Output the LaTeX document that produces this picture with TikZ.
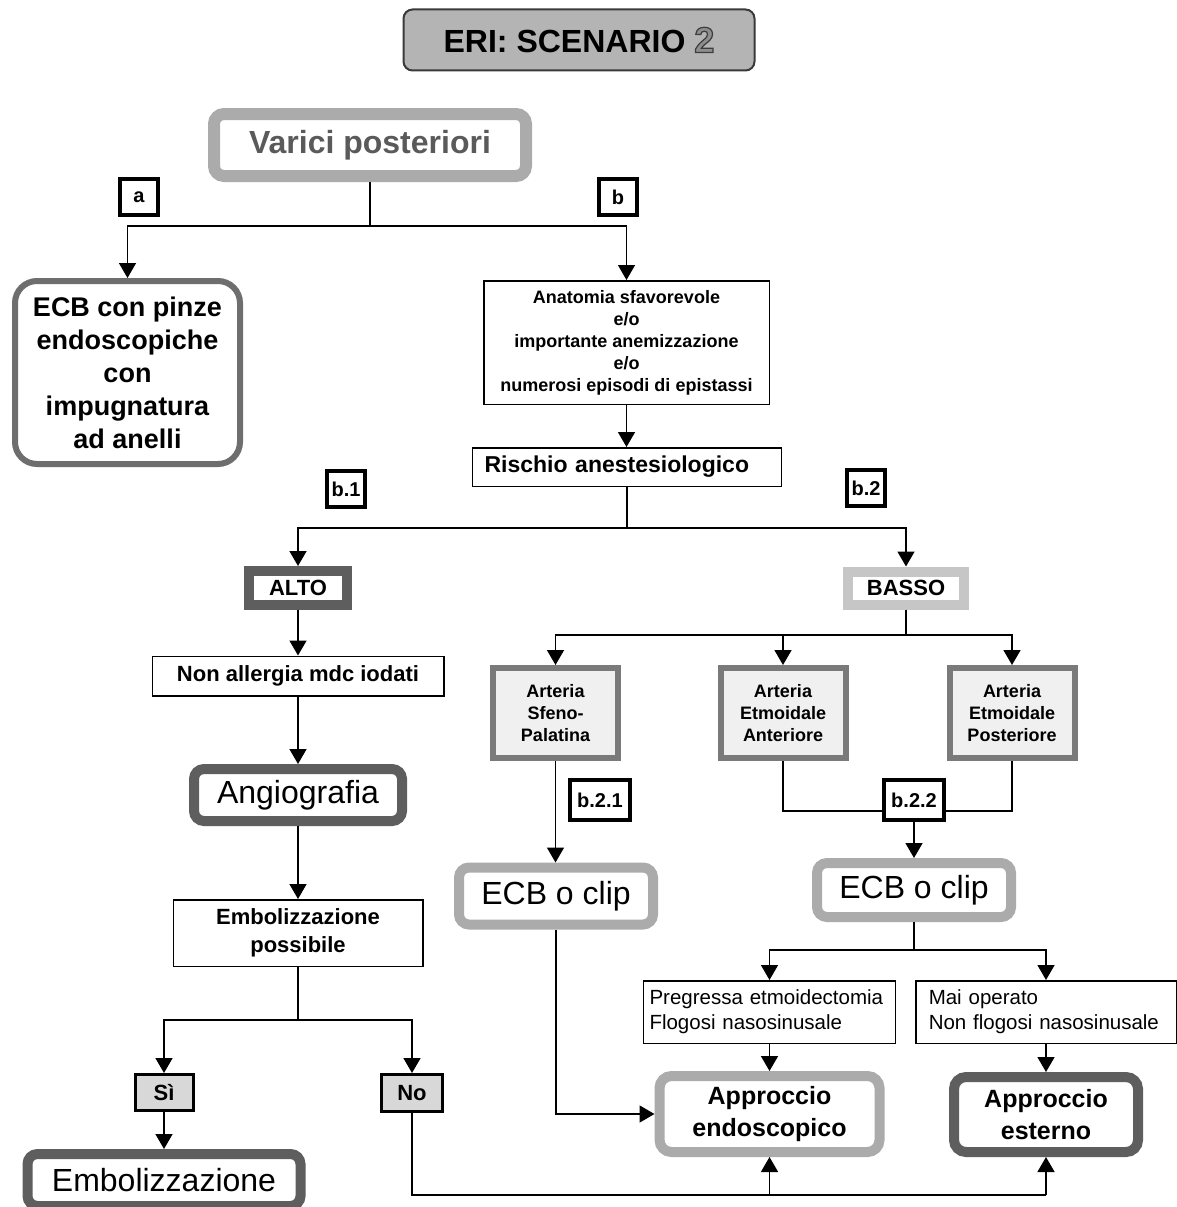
\documentclass[tikz,border=0pt]{standalone}
\usepackage{fontspec}
\setmainfont{Liberation Sans}
\usetikzlibrary{arrows.meta}

\definecolor{titlegray}{HTML}{B4B4B4}
\definecolor{titlerim}{HTML}{3A3A3A}
\definecolor{lightrim}{HTML}{ABABAB}
\definecolor{darkrim}{HTML}{5E5E5E}
\definecolor{midrim}{HTML}{6E6E6E}
\definecolor{artrim}{HTML}{7A7A7A}
\definecolor{artfill}{HTML}{F0F0F0}
\definecolor{bassorim}{HTML}{C6C6C6}
\definecolor{choicefill}{HTML}{D8D8D8}
\definecolor{vartext}{HTML}{5A5A5A}
\definecolor{twofill}{HTML}{8E8E8E}

\newcommand{\fsz}[2]{\fontsize{#1}{#2}\selectfont}
% outlined numeral of the title: grey fill, dark stroke
\newcommand{\scentwo}{{\fsz{36}{40}\color{twofill}%
  \special{pdf:literal direct 2 Tr 1.2 w 0.24 0.24 0.24 RG}2%
  \special{pdf:literal direct 0 Tr}}}

\tikzset{
  every node/.style={inner sep=0pt, align=center},
  conn/.style={line width=1.5pt, draw=black},
  arr/.style={conn, -{Triangle[width=17pt,length=15pt]}},
  tag/.style={draw=black, line width=4pt, fill=white, font=\bfseries\fsz{20}{23}},
  plainbox/.style={draw=black, line width=1.5pt, fill=white},
  thickrim/.style={line width=10pt, fill=white, rounded corners=10pt},
  artbox/.style={draw=artrim, line width=6pt, fill=artfill, minimum width=125pt, minimum height=90pt, font=\bfseries\fsz{18}{22}},
  choice/.style={draw=black, line width=3pt, fill=choicefill, font=\bfseries\fsz{22}{26}},
  notebox/.style={plainbox, align=left, minimum height=62.5pt, font=\fsz{20.5}{25}},
}

\begin{document}
\begin{tikzpicture}[x=1pt, y=-1pt]
\useasboundingbox (0,0) rectangle (1177,1207);
\clip (0,0) rectangle (1177,1207);
\fill[white] (0,0) rectangle (1177,1207);

% title
\node[draw=titlerim, line width=2pt, fill=titlegray, rounded corners=9pt,
      minimum width=351pt, minimum height=61pt, font=\bfseries\fsz{32}{38}]
  (title) at (579,40) {ERI: SCENARIO \scentwo};

% top level
\node[draw=lightrim, line width=12pt, fill=white, rounded corners=10pt,
      minimum width=312pt, minimum height=62pt, text=vartext, font=\bfseries\fsz{32}{38}]
  (varici) at (370,145) {Varici posteriori};

\node[draw=midrim, line width=6pt, fill=white, rounded corners=22pt,
      minimum width=225pt, minimum height=183pt, font=\bfseries\fsz{27}{33}]
  (ecb) at (127.5,372.5) {ECB con pinze\\endoscopiche\\con\\impugnatura\\ad anelli};

\node[plainbox, minimum width=285.5pt, minimum height=123.5pt, font=\bfseries\fsz{18}{22}]
  (anat) at (626.5,342.5) {Anatomia sfavorevole\\e/o\\importante anemizzazione\\e/o\\numerosi episodi di epistassi};

\node[plainbox, inner xsep=12pt, text width=285pt, align=left, minimum height=38.5pt,
      font=\bfseries\fsz{23}{27}]
  (risk) at (627,467) {Rischio anestesiologico};

% left branch: high risk
\node[draw=darkrim, line width=10pt, fill=white, minimum width=98pt, minimum height=34pt,
      font=\bfseries\fsz{22}{26}] (alto) at (298,588) {ALTO};
\node[plainbox, minimum width=291.5pt, minimum height=39.5pt, font=\bfseries\fsz{22}{26}]
  (nonall) at (298,676) {Non allergia mdc iodati};
\node[draw=darkrim, thickrim, minimum width=208pt, minimum height=52pt, font=\fsz{32}{38}]
  (angio) at (298,795) {Angiografia};
\node[plainbox, minimum width=249.5pt, minimum height=66.5pt, font=\bfseries\fsz{22}{28}]
  (embp) at (298,933) {Embolizzazione\\possibile};
\node[choice, minimum width=58pt, minimum height=36pt] (si) at (164,1092.5) {Sì};
\node[choice, minimum width=61pt, minimum height=37pt] (no) at (412,1093) {No};
\node[draw=darkrim, thickrim, minimum width=273pt, minimum height=52pt, font=\fsz{32}{38}]
  (emb) at (164,1180) {Embolizzazione};

% right branch: low risk
\node[draw=bassorim, line width=10pt, fill=white, minimum width=116pt, minimum height=33pt,
      font=\bfseries\fsz{22}{26}] (basso) at (906,588) {BASSO};
\node[artbox] (sfeno) at (555.5,713) {Arteria\\Sfeno-\\Palatina};
\node[artbox] (etant) at (783,713) {Arteria\\Etmoidale\\Anteriore};
\node[artbox] (etpost) at (1012,713) {Arteria\\Etmoidale\\Posteriore};

\node[draw=lightrim, thickrim, minimum width=194pt, minimum height=57pt, font=\fsz{32}{38}]
  (clipL) at (556,896) {ECB o clip};
\node[draw=lightrim, thickrim, minimum width=194pt, minimum height=54pt, font=\fsz{32}{38}]
  (clipR) at (914,890) {ECB o clip};

\node[notebox, inner xsep=6pt, text width=240pt]
  (preg) at (769.5,1012) {Pregressa etmoidectomia\\Flogosi nasosinusale};
\node[notebox, inner xsep=13pt, text width=234.5pt]
  (mai) at (1046,1012) {Mai operato\\Non flogosi nasosinusale};

\node[draw=lightrim, thickrim, rounded corners=12pt, minimum width=220pt, minimum height=76pt,
      font=\bfseries\fsz{25}{32}]
  (appE) at (769.5,1114) {Approccio\\endoscopico};
\node[draw=darkrim, thickrim, rounded corners=12pt, minimum width=184pt, minimum height=75pt,
      font=\bfseries\fsz{25}{32}]
  (appX) at (1046,1114.5) {Approccio\\esterno};

% connectors
\coordinate (j1) at (370,226);
\draw[conn] (varici.south) -- (j1);
\draw[arr] (j1) -| (ecb.north);
\draw[arr] (j1) -| (anat.north);
\draw[arr] (anat.south) -- (anat.south |- risk.north);

\coordinate (j2) at (627,528);
\draw[conn] (risk.south) -- (j2);
\draw[arr] (j2) -| (alto.north);
\draw[arr] (j2) -| (basso.north);

\draw[arr] (alto.south) -- (nonall.north);
\draw[arr] (nonall.south) -- (angio.north);
\draw[arr] (angio.south) -- (embp.north);

\coordinate (j3) at (298,1020);
\draw[conn] (embp.south) -- (j3);
\draw[arr] (j3) -| (si.north);
\draw[arr] (j3) -| (no.north);
\draw[arr] (si.south) -- (emb.north);

\coordinate (j4) at (906,635);
\draw[conn] (basso.south) -- (j4);
\draw[arr] (j4) -| (sfeno.north);
\draw[arr] (j4) -| (etant.north);
\draw[arr] (j4) -| (etpost.north);

\draw[arr] (sfeno.south) -- (sfeno.south |- clipL.north);
\coordinate (j7) at (783,811);
\draw[conn] (etant.south) -- (j7) -| (etpost.south);

\coordinate (j5) at (914,950);
\draw[conn] (clipR.south) -- (j5);
\draw[arr] (j5) -| (preg.north);
\draw[arr] (j5) -| (mai.north);
\draw[arr] (preg.south) -- (appE.north);
\draw[arr] (mai.south) -- (appX.north);
\draw[arr] (clipL.south) |- (appE.west);

\coordinate (bot) at (0,1195);
\draw[conn] (no.south) |- (appX.south |- bot);
\draw[arr] (appE.south |- bot) -- (appE.south);
\draw[arr] (appX.south |- bot) -- (appX.south);

% branch tags
\node[tag, minimum width=38pt, minimum height=36pt] (ta) at (139,197) {a};
\node[tag, minimum width=38pt, minimum height=36pt] (tb) at (618,197) {b};
\node[tag, minimum width=38pt, minimum height=36pt] (tb1) at (346,489) {b.1};
\node[tag, minimum width=38pt, minimum height=36pt] (tb2) at (866,488) {b.2};
\node[tag, minimum width=60pt, minimum height=40pt] (tb21) at (600,800) {b.2.1};
\node[tag, minimum width=60pt, minimum height=40pt] (tb22) at (914,800) {b.2.2};
\draw[arr] (tb22.south) -- (clipR.north);
\end{tikzpicture}
\end{document}
